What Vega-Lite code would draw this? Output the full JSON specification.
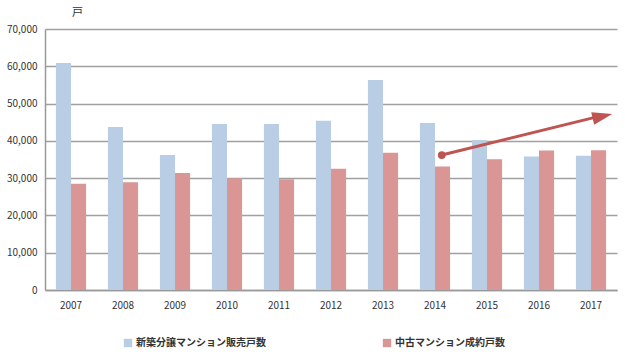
{
  "$schema": "https://vega.github.io/schema/vega-lite/v6.json",
  "width": 572,
  "height": 261,
  "autosize": {"type": "none"},
  "padding": {"left": 45, "top": 29, "right": 8, "bottom": 68},
  "background": "#ffffff",
  "config": {
    "view": {"stroke": null},
    "font": "Noto Sans CJK JP",
    "axis": {"labelFont": "Noto Sans CJK JP", "labelColor": "#333333", "labelFontSize": 10, "titleFont": "Noto Sans CJK JP"}
  },
  "datasets": {
    "bars": [
      {"year": "2007", "series": "新築分譲マンション販売戸数", "value": 60900},
      {"year": "2007", "series": "中古マンション成約戸数", "value": 28500},
      {"year": "2008", "series": "新築分譲マンション販売戸数", "value": 43700},
      {"year": "2008", "series": "中古マンション成約戸数", "value": 28900},
      {"year": "2009", "series": "新築分譲マンション販売戸数", "value": 36200},
      {"year": "2009", "series": "中古マンション成約戸数", "value": 31400},
      {"year": "2010", "series": "新築分譲マンション販売戸数", "value": 44500},
      {"year": "2010", "series": "中古マンション成約戸数", "value": 30000},
      {"year": "2011", "series": "新築分譲マンション販売戸数", "value": 44500},
      {"year": "2011", "series": "中古マンション成約戸数", "value": 29700},
      {"year": "2012", "series": "新築分譲マンション販売戸数", "value": 45400},
      {"year": "2012", "series": "中古マンション成約戸数", "value": 32500},
      {"year": "2013", "series": "新築分譲マンション販売戸数", "value": 56300},
      {"year": "2013", "series": "中古マンション成約戸数", "value": 36800},
      {"year": "2014", "series": "新築分譲マンション販売戸数", "value": 44800},
      {"year": "2014", "series": "中古マンション成約戸数", "value": 33100},
      {"year": "2015", "series": "新築分譲マンション販売戸数", "value": 40200},
      {"year": "2015", "series": "中古マンション成約戸数", "value": 35100},
      {"year": "2016", "series": "新築分譲マンション販売戸数", "value": 35800},
      {"year": "2016", "series": "中古マンション成約戸数", "value": 37400},
      {"year": "2017", "series": "新築分譲マンション販売戸数", "value": 36000},
      {"year": "2017", "series": "中古マンション成約戸数", "value": 37500}
    ],
    "arrow": [
      {"pos": 7.63, "value": 36200, "end": "start"},
      {"pos": 10.75, "value": 46900, "end": "tip"}
    ],
    "head": [
      {"pos": 10.72, "value": 46600}
    ]
  },
  "layer": [
    {
      "data": {"name": "bars"},
      "mark": {"type": "bar"},
      "encoding": {
        "x": {
          "field": "year", "type": "nominal",
          "scale": {"paddingInner": 0.42, "paddingOuter": 0.21},
          "axis": {"title": null, "labelAngle": 0, "ticks": false, "labelPadding": 10, "domainColor": "#999999", "domainWidth": 1.5, "labelFontSize": 10}
        },
        "xOffset": {"field": "series", "type": "nominal", "sort": ["新築分譲マンション販売戸数", "中古マンション成約戸数"]},
        "y": {
          "field": "value", "type": "quantitative",
          "scale": {"domain": [0, 70000], "nice": false},
          "axis": {
            "title": "戸", "titleAngle": 0, "titleX": 32, "titleY": -17, "titleBaseline": "middle", "titleAlign": "center", "titleFontSize": 11, "titleFontWeight": "normal", "titleColor": "#333333",
            "values": [0, 10000, 20000, 30000, 40000, 50000, 60000, 70000],
            "labelOverlap": false,
            "format": ",d", "ticks": false, "labelPadding": 8,
            "gridColor": "#A0A0A0", "gridWidth": 1.5, "domainColor": "#999999", "domainWidth": 1.5
          }
        },
        "color": {
          "field": "series", "type": "nominal",
          "sort": ["新築分譲マンション販売戸数", "中古マンション成約戸数"],
          "scale": {"domain": ["新築分譲マンション販売戸数", "中古マンション成約戸数"], "range": ["#B9CDE5", "#D99694"]},
          "legend": {
            "title": null, "orient": "none", "legendX": 78, "legendY": 309, "direction": "horizontal",
            "symbolType": "square", "symbolSize": 70, "symbolStrokeWidth": 0,
            "labelFontSize": 10, "labelFontWeight": "bold", "labelColor": "#333333",
            "columnPadding": 116, "labelOffset": 3
          }
        }
      }
    },
    {
      "data": {"name": "arrow"},
      "mark": {"type": "line", "color": "#BE5551", "strokeWidth": 3, "strokeCap": "butt"},
      "encoding": {
        "x": {"field": "pos", "type": "quantitative", "scale": {"domain": [0, 11], "nice": false, "zero": false}, "axis": null},
        "y": {"field": "value", "type": "quantitative", "axis": null}
      }
    },
    {
      "data": {"name": "arrow"},
      "transform": [{"filter": "datum.end === 'start'"}],
      "mark": {"type": "point", "filled": true, "color": "#BE5551", "size": 60, "opacity": 1},
      "encoding": {
        "x": {"field": "pos", "type": "quantitative", "scale": {"domain": [0, 11], "nice": false, "zero": false}, "axis": null},
        "y": {"field": "value", "type": "quantitative", "axis": null}
      }
    },
    {
      "data": {"name": "head"},
      "mark": {"type": "point", "filled": true, "color": "#BE5551", "size": 400, "opacity": 1, "shape": "M1,0L-1,-0.65L-1,0.65Z", "angle": 347},
      "encoding": {
        "x": {"field": "pos", "type": "quantitative", "scale": {"domain": [0, 11], "nice": false, "zero": false}, "axis": null},
        "y": {"field": "value", "type": "quantitative", "axis": null}
      }
    }
  ],
  "resolve": {"scale": {"x": "independent"}, "axis": {"y": "independent"}}
}
